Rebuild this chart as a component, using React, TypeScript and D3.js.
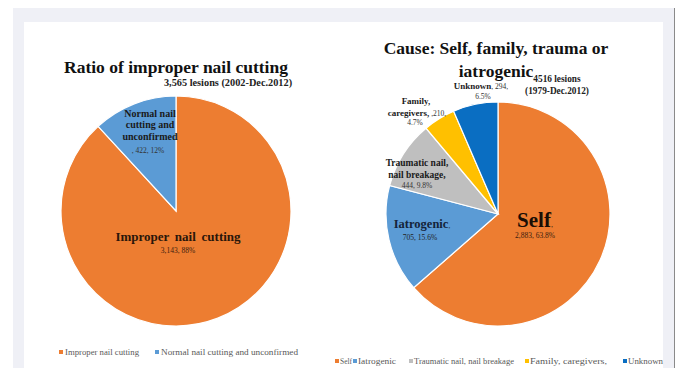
import React from "react";
import * as d3 from "d3";

// ---------- data ----------
const leftCategories = ["Improper nail cutting", "Normal nail cutting and unconfirmed"];
const leftValues = [3143, 422];
const leftPercents = ["88%", "12%"];

const rightCategories = ["Self", "Iatrogenic", "Traumatic nail, nail breakage", "Family, caregivers,", "Unknown"];
const rightValues = [2883, 705, 444, 210, 294];
const rightPercents = ["63.8%", "15.6%", "9.8%", "4.7%", "6.5%"];

const leftTitle = "Ratio of improper nail cutting";
const leftSubtitle = "3,565 lesions (2002-Dec.2012)";
const rightTitleLines = ["Cause: Self, family, trauma or", "iatrogenic"];
const rightSubtitleLines = ["4516 lesions", "(1979-Dec.2012)"];

// ---------- style / layout ----------
const leftColors = ["#ED7D31", "#5B9BD5"];
const rightColors = ["#ED7D31", "#5B9BD5", "#BFBFBF", "#FFC000", "#0A6EC2"];
const SERIF = "'Liberation Serif', 'Times New Roman', serif";
const fmt = d3.format(",");

const L = { cx: 176, cy: 211, r: 115 };
const R = { cx: 498, cy: 214, r: 112 };

const leftLegendX = [59, 155];
const leftLegendW = [74, 137];
const rightLegendX = [335, 353, 409, 525, 623];
const rightLegendW = [12, 38, 100, 77, 35];

export default function App() {
  const pie = d3.pie<number>().sort(null).value((d) => d);
  const leftArcs = pie(leftValues);
  const rightArcs = pie(rightValues);
  const arcL = d3.arc<d3.PieArcDatum<number>>().innerRadius(0).outerRadius(L.r);
  const arcR = d3.arc<d3.PieArcDatum<number>>().innerRadius(0).outerRadius(R.r);

  return (
    <svg
      width={680}
      height={368}
      style={{ position: "absolute", left: 0, top: 0, fontFamily: SERIF }}
    >
      <rect x={0} y={0} width={680} height={368} fill="#ffffff" />
      <rect x={13} y={8} width={661} height={360} fill="#EFF0F6" />
      <line x1={674.5} y1={8} x2={674.5} y2={368} stroke="#8a8a8a" strokeWidth={1} />
      <rect x={24} y={22} width={639} height={346} fill="#ffffff" />

      {/* left chart */}
      <text x={176} y={73} textAnchor="middle" fontSize={17.5} fontWeight="bold" fill="#111">
        {leftTitle}
      </text>
      <text x={228} y={86} textAnchor="middle" fontSize={10.3} fontWeight="bold" fill="#222">
        {leftSubtitle}
      </text>
      <g transform={`translate(${L.cx},${L.cy})`}>
        {leftArcs.map((a, i) => (
          <path key={i} d={arcL(a) || ""} fill={leftColors[i]} stroke="#fff" strokeWidth={1.2} />
        ))}
      </g>
      <g fill="#1a1a1a" textAnchor="middle">
        <text x={L.cx - 26} y={L.cy - 94} fontSize={10} fontWeight="bold">Normal nail</text>
        <text x={L.cx - 26} y={L.cy - 83} fontSize={10} fontWeight="bold">cutting and</text>
        <text x={L.cx - 26} y={L.cy - 71} fontSize={10} fontWeight="bold">unconfirmed</text>
        <text x={L.cx - 28} y={L.cy - 58} fontSize={7.5} fill="#333">
          {`, ${fmt(leftValues[1])}, ${leftPercents[1]}`}
        </text>
        <text x={L.cx + 2} y={L.cy + 30} fontSize={13} fontWeight="bold" wordSpacing={2.5} fill="#2a160a">
          {leftCategories[0]}
        </text>
        <text x={L.cx + 2} y={L.cy + 42} fontSize={7.5} fill="#3a2010">
          {`${fmt(leftValues[0])}, ${leftPercents[0]}`}
        </text>
      </g>
      <g fontSize={8.8} fill="#595959">
        {leftCategories.map((c, i) => (
          <g key={c}>
            <rect x={leftLegendX[i]} y={350} width={4} height={4} fill={leftColors[i]} />
            <text x={leftLegendX[i] + 6} y={355} textLength={leftLegendW[i]} lengthAdjust="spacingAndGlyphs">
              {c}
            </text>
          </g>
        ))}
      </g>

      {/* right chart */}
      {rightTitleLines.map((t, i) => (
        <text key={t} x={496} y={54 + i * 23} textAnchor="middle" fontSize={17.5} fontWeight="bold" fill="#111">
          {t}
        </text>
      ))}
      {rightSubtitleLines.map((t, i) => (
        <text key={t} x={557} y={82 + i * 12} textAnchor="middle" fontSize={9.3} fontWeight="bold" fill="#222">
          {t}
        </text>
      ))}
      <g transform={`translate(${R.cx},${R.cy})`}>
        {rightArcs.map((a, i) => (
          <path key={i} d={arcR(a) || ""} fill={rightColors[i]} stroke="#fff" strokeWidth={1.2} />
        ))}
      </g>
      <g fill="#1a1a1a" textAnchor="middle">
        {/* Unknown */}
        <text x={R.cx - 17} y={R.cy - 125}>
          <tspan fontSize={9} fontWeight="bold">Unknown</tspan>
          <tspan fontSize={7.5} fill="#333">{`, ${rightValues[4]},`}</tspan>
        </text>
        <text x={R.cx - 15} y={R.cy - 115} fontSize={7.5} fill="#333">{rightPercents[4]}</text>
        {/* Family */}
        <text x={R.cx - 82} y={R.cy - 110} fontSize={9} fontWeight="bold">Family,</text>
        <text x={R.cx - 81} y={R.cy - 98}>
          <tspan fontSize={9} fontWeight="bold">caregivers,</tspan>
          <tspan fontSize={7.5} fill="#333">{` ,${rightValues[3]},`}</tspan>
        </text>
        <text x={R.cx - 83} y={R.cy - 89} fontSize={7.5} fill="#333">{rightPercents[3]}</text>
        {/* Traumatic */}
        <text x={R.cx - 81} y={R.cy - 48} fontSize={9.5} fontWeight="bold">Traumatic nail,</text>
        <text x={R.cx - 81} y={R.cy - 36} fontSize={9.5} fontWeight="bold">nail breakage,</text>
        <text x={R.cx - 81} y={R.cy - 26} fontSize={7.5} fill="#333">
          {`${rightValues[2]}, ${rightPercents[2]}`}
        </text>
        {/* Iatrogenic */}
        <text x={R.cx - 76} y={R.cy + 14}>
          <tspan fontSize={12.5} fontWeight="bold" fill="#14243a">Iatrogenic</tspan>
          <tspan fontSize={7.5} fill="#333">,</tspan>
        </text>
        <text x={R.cx - 78} y={R.cy + 26} fontSize={7.5} fill="#222">
          {`${rightValues[1]}, ${rightPercents[1]}`}
        </text>
        {/* Self */}
        <text x={R.cx + 37} y={R.cy + 13}>
          <tspan fontSize={21} fontWeight="bold" fill="#1a0e05">Self</tspan>
          <tspan fontSize={8} fill="#3a2010">,</tspan>
        </text>
        <text x={R.cx + 37} y={R.cy + 24} fontSize={7.5} fill="#3a2010">
          {`${fmt(rightValues[0])}, ${rightPercents[0]}`}
        </text>
      </g>
      <g fontSize={8.8} fill="#595959">
        {rightCategories.map((c, i) => (
          <g key={c}>
            <rect x={rightLegendX[i]} y={359} width={4} height={4} fill={rightColors[i]} />
            <text x={rightLegendX[i] + 5} y={364} textLength={rightLegendW[i]} lengthAdjust="spacingAndGlyphs">
              {c}
            </text>
          </g>
        ))}
      </g>
    </svg>
  );
}
